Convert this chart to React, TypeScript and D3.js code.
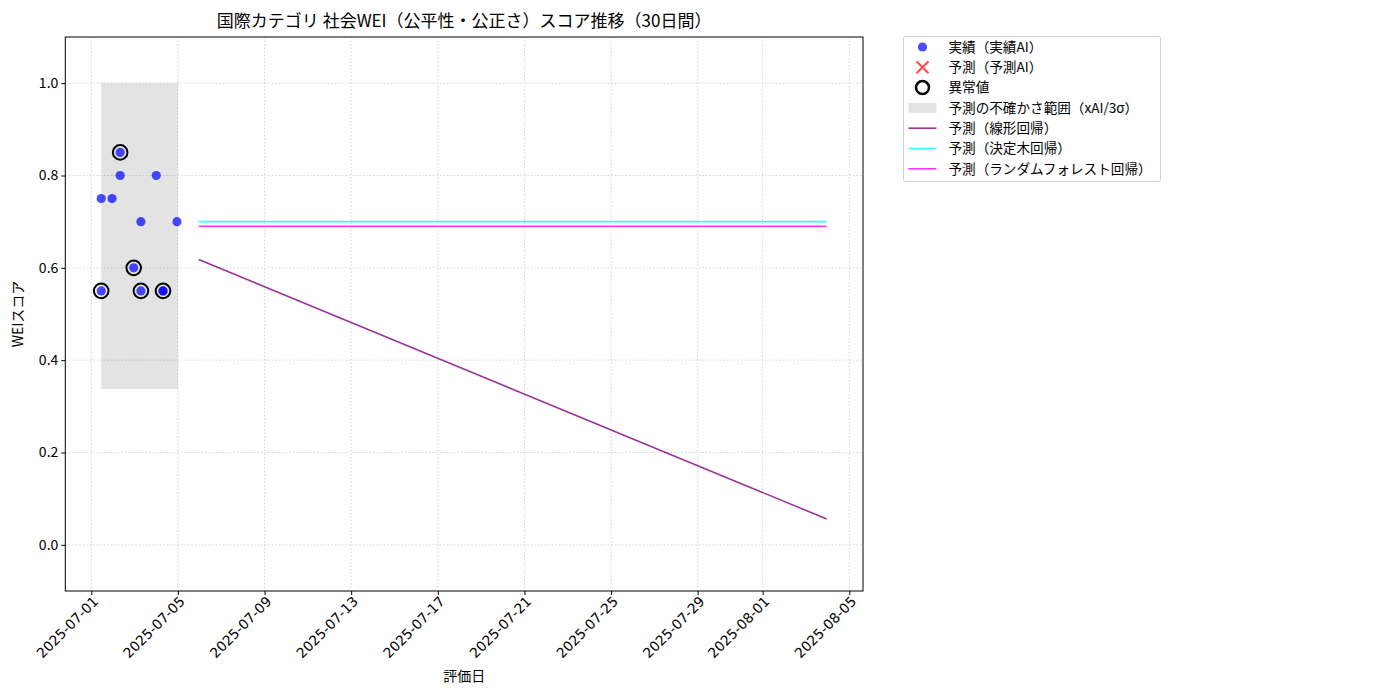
import React, { useEffect, useRef } from "react";
import * as d3 from "d3";

// observed scores (actual, AI-evaluated)
const actualDates = [
  "2025-07-01T11:00", "2025-07-01T11:00", "2025-07-01T23:00", "2025-07-02T08:00",
  "2025-07-02T08:00", "2025-07-02T23:00", "2025-07-03T07:00", "2025-07-03T07:00",
  "2025-07-04T00:00", "2025-07-04T07:30", "2025-07-04T07:30", "2025-07-04T23:00",
];
const actualScores = [0.75, 0.55, 0.75, 0.85, 0.8, 0.6, 0.7, 0.55, 0.8, 0.55, 0.55, 0.7];

// anomalies
const anomalyDates = [
  "2025-07-01T11:00", "2025-07-02T08:00", "2025-07-02T23:00", "2025-07-03T07:00", "2025-07-04T07:30",
];
const anomalyScores = [0.55, 0.85, 0.6, 0.55, 0.55];

// uncertainty band
const bandDates = ["2025-07-01T11:00", "2025-07-05T00:00"];
const bandRange = [0.3375, 1.0];

// forecasts
const forecastDates = ["2025-07-05T23:00", "2025-08-03T23:00"];
const linearForecast = [0.618, 0.056];
const treeForecast = [0.7, 0.7];
const forestForecast = [0.69, 0.69];

const xTickLabels = [
  "2025-07-01", "2025-07-05", "2025-07-09", "2025-07-13", "2025-07-17",
  "2025-07-21", "2025-07-25", "2025-07-29", "2025-08-01", "2025-08-05",
];
const yTicks = [0.0, 0.2, 0.4, 0.6, 0.8, 1.0];

const legendLabels = [
  "実績（実績AI）",
  "予測（予測AI）",
  "異常値",
  "予測の不確かさ範囲（xAI/3σ）",
  "予測（線形回帰）",
  "予測（決定木回帰）",
  "予測（ランダムフォレスト回帰）",
];

const FONT = "'Noto Sans CJK JP', 'Noto Sans', sans-serif";

const App = () => {
  const svgRef = useRef<SVGSVGElement | null>(null);

  useEffect(() => {
    const width = 1400;
    const height = 700;
    const margin = { top: 37, right: 537, bottom: 109, left: 65.3 };
    const parse = d3.isoParse;

    const svg = d3.select(svgRef.current).attr("width", width).attr("height", height);
    svg.selectAll("*").remove();

    const x = d3
      .scaleTime()
      .domain([parse("2025-06-29T19:12")!, parse("2025-08-05T15:12")!])
      .range([margin.left, width - margin.right]);
    const y = d3
      .scaleLinear()
      .domain([-0.1, 1.1])
      .range([height - margin.bottom, margin.top]);

    const xTicks = xTickLabels.map((d) => parse(d)!);

    // grid
    const grid = svg.append("g").attr("stroke", "#c8c8c8").attr("stroke-width", 0.8).attr("stroke-dasharray", "1.5,2");
    grid.selectAll(".gx").data(xTicks).enter().append("line")
      .attr("x1", (d) => x(d)).attr("x2", (d) => x(d))
      .attr("y1", margin.top).attr("y2", height - margin.bottom);
    grid.selectAll(".gy").data(yTicks).enter().append("line")
      .attr("x1", margin.left).attr("x2", width - margin.right)
      .attr("y1", (d) => y(d)).attr("y2", (d) => y(d));

    // uncertainty band
    svg.append("rect")
      .attr("x", x(parse(bandDates[0])!))
      .attr("width", x(parse(bandDates[1])!) - x(parse(bandDates[0])!))
      .attr("y", y(bandRange[1]))
      .attr("height", y(bandRange[0]) - y(bandRange[1]))
      .attr("fill", "#808080").attr("fill-opacity", 0.22);

    // forecast lines
    const line = d3.line<[Date, number]>().x((d) => x(d[0])).y((d) => y(d[1]));
    const fd = forecastDates.map((d) => parse(d)!);
    const series: [number[], string][] = [
      [linearForecast, "#800080"],
      [treeForecast, "#00ffff"],
      [forestForecast, "#ff00ff"],
    ];
    series.forEach(([vals, color]) => {
      svg.append("path")
        .datum(fd.map((d, i) => [d, vals[i]] as [Date, number]))
        .attr("d", line)
        .attr("fill", "none")
        .attr("stroke", color)
        .attr("stroke-opacity", 0.8)
        .attr("stroke-width", 1.6);
    });

    // actual points
    svg.selectAll(".pt").data(actualDates).enter().append("circle")
      .attr("cx", (d) => x(parse(d)!))
      .attr("cy", (_, i) => y(actualScores[i]))
      .attr("r", 4.6)
      .attr("fill", "blue").attr("fill-opacity", 0.7);

    // anomalies
    svg.selectAll(".an").data(anomalyDates).enter().append("circle")
      .attr("cx", (d) => x(parse(d)!))
      .attr("cy", (_, i) => y(anomalyScores[i]))
      .attr("r", 7.3)
      .attr("fill", "none").attr("stroke", "black").attr("stroke-width", 2);

    // axes
    const xAxis = svg.append("g")
      .attr("transform", `translate(0,${height - margin.bottom})`)
      .call(d3.axisBottom(x).tickValues(xTicks).tickFormat((d) => d3.timeFormat("%Y-%m-%d")(d as Date)).tickSizeOuter(0).tickSize(4));
    xAxis.selectAll("text")
      .attr("transform", "translate(-1,3) rotate(-45)")
      .attr("text-anchor", "end")
      .attr("dy", "0.35em")
      .attr("font-size", 13.8)
      .attr("font-family", "'DejaVu Sans', sans-serif")
      .attr("fill", "#000");

    const yAxis = svg.append("g")
      .attr("transform", `translate(${margin.left},0)`)
      .call(d3.axisLeft(y).tickValues(yTicks).tickFormat(d3.format(".1f")).tickSizeOuter(0).tickSize(4));
    yAxis.selectAll("text").attr("font-size", 14).attr("font-family", FONT).attr("fill", "#000");
    svg.selectAll(".domain").remove();

    // frame
    svg.append("rect")
      .attr("x", margin.left).attr("y", margin.top)
      .attr("width", width - margin.right - margin.left)
      .attr("height", height - margin.bottom - margin.top)
      .attr("fill", "none").attr("stroke", "#000").attr("stroke-width", 1);

    // titles
    const cx = (margin.left + width - margin.right) / 2;
    svg.append("text").attr("x", cx).attr("y", 27).attr("text-anchor", "middle")
      .attr("font-size", 17).attr("font-family", FONT).text("国際カテゴリ 社会WEI（公平性・公正さ）スコア推移（30日間）");
    svg.append("text").attr("x", cx).attr("y", 681).attr("text-anchor", "middle")
      .attr("font-size", 14).attr("font-family", FONT).text("評価日");
    svg.append("text").attr("transform", `translate(23,${(margin.top + height - margin.bottom) / 2}) rotate(-90)`)
      .attr("text-anchor", "middle").attr("font-size", 14).attr("font-family", FONT).text("WEIスコア");

    // legend
    const lg = svg.append("g").attr("transform", "translate(903.5,36.5)");
    lg.append("rect").attr("width", 257).attr("height", 145).attr("rx", 2)
      .attr("fill", "#fff").attr("stroke", "#d0d0d0");
    const rowY = (i: number) => 10.5 + i * 20.3;
    legendLabels.forEach((label, i) => {
      const g = lg.append("g").attr("transform", `translate(0,${rowY(i)})`);
      if (i === 0) {
        g.append("circle").attr("cx", 19).attr("r", 4.6).attr("fill", "blue").attr("fill-opacity", 0.7);
      } else if (i === 1) {
        g.append("path").attr("d", "M13,-6L25,6M13,6L25,-6").attr("stroke", "red").attr("stroke-opacity", 0.7).attr("stroke-width", 2);
      } else if (i === 2) {
        g.append("circle").attr("cx", 19).attr("r", 6.5).attr("fill", "none").attr("stroke", "black").attr("stroke-width", 2.5);
      } else if (i === 3) {
        g.append("rect").attr("x", 5).attr("y", -5).attr("width", 28).attr("height", 10)
          .attr("fill", "#808080").attr("fill-opacity", 0.22);
      } else {
        g.append("line").attr("x1", 5).attr("x2", 33)
          .attr("stroke", series[i - 4][1]).attr("stroke-opacity", 0.8).attr("stroke-width", 1.6);
      }
      g.append("text").attr("x", 45).attr("dy", "0.35em").attr("font-size", 13.6)
        .attr("font-family", FONT).text(label);
    });
  }, []);

  return <svg ref={svgRef} style={{ position: "absolute", left: 0, top: 0 }}></svg>;
};

export default App;
